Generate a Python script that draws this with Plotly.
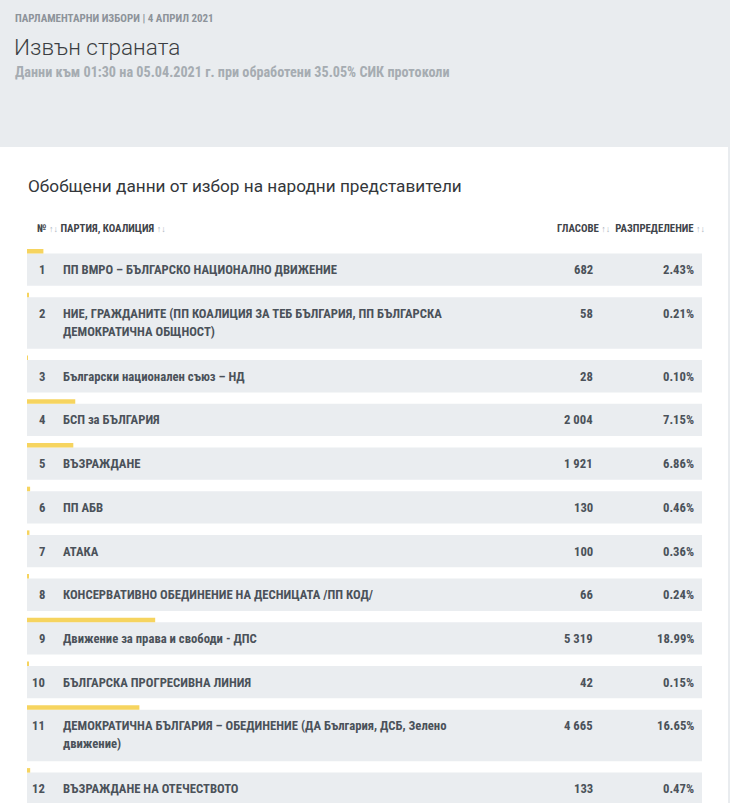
import plotly.graph_objects as go

# ---------------- data ----------------
numbers = [1, 2, 3, 4, 5, 6, 7, 8, 9, 10, 11, 12]
parties = [
    "ПП ВМРО – БЪЛГАРСКО НАЦИОНАЛНО ДВИЖЕНИЕ",
    "НИЕ, ГРАЖДАНИТЕ (ПП КОАЛИЦИЯ ЗА ТЕБ БЪЛГАРИЯ, ПП БЪЛГАРСКА<br>ДЕМОКРАТИЧНА ОБЩНОСТ)",
    "Български национален съюз – НД",
    "БСП за БЪЛГАРИЯ",
    "ВЪЗРАЖДАНЕ",
    "ПП АБВ",
    "АТАКА",
    "КОНСЕРВАТИВНО ОБЕДИНЕНИЕ НА ДЕСНИЦАТА /ПП КОД/",
    "Движение за права и свободи - ДПС",
    "БЪЛГАРСКА ПРОГРЕСИВНА ЛИНИЯ",
    "ДЕМОКРАТИЧНА БЪЛГАРИЯ – ОБЕДИНЕНИЕ (ДА България, ДСБ, Зелено<br>движение)",
    "ВЪЗРАЖДАНЕ НА ОТЕЧЕСТВОТО",
]
votes = [682, 58, 28, 2004, 1921, 130, 100, 66, 5319, 42, 4665, 133]
percent = [2.43, 0.21, 0.10, 7.15, 6.86, 0.46, 0.36, 0.24, 18.99, 0.15, 16.65, 0.47]

kicker = "ПАРЛАМЕНТАРНИ ИЗБОРИ | 4 АПРИЛ 2021"
title = "Извън страната"
subtitle = "Данни към 01:30 на 05.04.2021 г. при обработени 35.05% СИК протоколи"
card_title = "Обобщени данни от избор на народни представители"
col_headers = ["№", "ПАРТИЯ, КОАЛИЦИЯ", "ГЛАСОВЕ", "РАЗПРЕДЕЛЕНИЕ"]

# ---------------- styling ----------------
W, H = 730, 803
HEADER_BG = "#e9ecef"
ROW_BG = "#eaedf0"
YELLOW = "#f6d45f"
TXT = "#4b525a"
COND = "Roboto Condensed, Liberation Sans Narrow, Arial Narrow, Roboto, sans-serif"
ARROW = "#aab3bd"

ROW_X0, ROW_X1 = 27, 702
FIRST_TOP = 253.5
SINGLE_H, DOUBLE_H, GAP = 32.3, 51.5, 11.4
BAR_H = 4.5

# compute row geometry (layout)
tops, heights = [], []
y = FIRST_TOP
for name in parties:
    nlines = len(name.split("<br>"))
    h = SINGLE_H if nlines == 1 else DOUBLE_H
    tops.append(y)
    heights.append(h)
    y += h + GAP
centers = [t + h / 2 for t, h in zip(tops, heights)]

fig = go.Figure()

# row backgrounds (full width = 100 on the bar axis)
fig.add_trace(go.Bar(
    x=[100] * len(numbers), y=centers, width=heights, orientation="h",
    marker=dict(color=ROW_BG, line=dict(width=0)), xaxis="x2", yaxis="y",
    hoverinfo="skip", showlegend=False,
))
# yellow share bars
fig.add_trace(go.Bar(
    x=percent, y=[t - BAR_H / 2 for t in tops], width=[BAR_H] * len(numbers),
    orientation="h", marker=dict(color=YELLOW, line=dict(width=0)),
    xaxis="x2", yaxis="y", hoverinfo="skip", showlegend=False,
))

annotations = []


def add_text(x, y, text, size, color, family=COND, xanchor="left", weight="bold"):
    annotations.append(dict(
        x=x, y=y, xref="x", yref="y", text=text, showarrow=False,
        xanchor=xanchor, yanchor="middle",
        font=dict(size=size, color=color, family=family, weight=weight),
    ))


ROW_FS = 12.7
for n, name, v, p, t, h in zip(numbers, parties, votes, percent, tops, heights):
    lines = name.split("<br>")
    first_y = t + h / 2 if len(lines) == 1 else t + 16
    add_text(47, first_y, str(n), ROW_FS, TXT, xanchor="right")
    for i, ln in enumerate(lines):
        add_text(61, first_y + 18 * i, ln, ROW_FS, TXT)
    add_text(595, first_y, f"{v:,}".replace(",", " "), ROW_FS, TXT, xanchor="right")
    add_text(696, first_y, f"{p:.2f}%", ROW_FS, TXT, xanchor="right")

arr = f"<span style='color:{ARROW};font-size:9px'>↑↓</span>"
add_text(35, 228, f"{col_headers[0]} {arr} {col_headers[1]} {arr}", 10.8, "#3f444a")
add_text(707, 228, f"{col_headers[2]} {arr}  {col_headers[3]} {arr}", 10.8, "#3f444a",
         xanchor="right")

# header texts
add_text(13, 18, kicker, 11, "#8d939a")
add_text(12, 47, title, 22.5, "#3b3e42", family="Roboto, sans-serif", weight=300)
add_text(13, 72, subtitle, 14.2, "#a6acb2")
add_text(26, 186, card_title, 17.2, "#34373b", family="Roboto, sans-serif",
         weight="normal")

shapes = [
    dict(type="rect", xref="x", yref="y", x0=0, x1=W, y0=0, y1=147,
         fillcolor=HEADER_BG, line=dict(width=0), layer="below"),
    dict(type="rect", xref="x", yref="y", x0=728, x1=W, y0=147, y1=H,
         fillcolor=HEADER_BG, line=dict(width=0), layer="below"),
]

fig.update_layout(
    width=W, height=H, margin=dict(l=0, r=0, t=0, b=0),
    paper_bgcolor="white", plot_bgcolor="rgba(0,0,0,0)",
    barmode="overlay", showlegend=False,
    xaxis=dict(range=[0, W], domain=[0, 1], visible=False, fixedrange=True),
    xaxis2=dict(range=[0, 100], domain=[ROW_X0 / W, ROW_X1 / W], anchor="y",
                visible=False, fixedrange=True),
    yaxis=dict(range=[H, 0], domain=[0, 1], visible=False, fixedrange=True),
    annotations=annotations, shapes=shapes,
)

fig.write_html(
    "out.html",
    config={"displayModeBar": False},
    post_script="document.body.style.margin='0px';document.body.style.overflow='hidden';",
)
